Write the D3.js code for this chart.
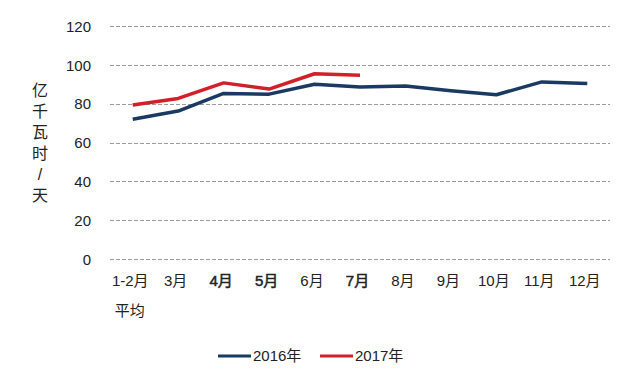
<!DOCTYPE html>
<html>
<head>
<meta charset="utf-8">
<script src="https://cdn.jsdelivr.net/npm/d3@7"></script>
<style>
  body { margin: 0; background: #fff; }
  text { font-family: "Liberation Sans", "Noto Sans CJK SC", sans-serif; fill: #222; }
</style>
</head>
<body>
<div id="chart"></div>
<script>
const months = ["1-2月", "3月", "4月", "5月", "6月", "7月", "8月", "9月", "10月", "11月", "12月"];
const values2016 = [72, 76.2, 85.3, 84.9, 90, 88.6, 89.1, 86.6, 84.6, 91.2, 90.4];
const values2017 = [79.3, 82.7, 90.7, 87.5, 95.4, 94.6];
const yTicks = [0, 20, 40, 60, 80, 100, 120];
const seriesNames = ["2016年", "2017年"];
const yTitle = ["亿", "千", "瓦", "时", "/", "天"];

const width = 642, height = 370;
const plot = { left: 110, right: 610, top: 26, bottom: 259 };
const colors = ["#1b3a63", "#d2202b"];
const boldTicks = ["4月", "5月", "7月"];

const svg = d3.select("#chart").append("svg")
    .attr("width", width)
    .attr("height", height);

const x = d3.scalePoint()
    .domain(months)
    .range([plot.left, plot.right])
    .padding(0.5);

const y = d3.scaleLinear()
    .domain([0, 120])
    .range([plot.bottom, plot.top]);

// dashed gridlines
svg.append("g")
   .selectAll("line")
   .data(yTicks)
   .enter()
   .append("line")
   .attr("x1", plot.left)
   .attr("x2", plot.right)
   .attr("y1", d => Math.round(y(d)) + 0.5)
   .attr("y2", d => Math.round(y(d)) + 0.5)
   .attr("stroke", "#9a9a9a")
   .attr("stroke-width", 1)
   .attr("stroke-dasharray", "4,2");

// y axis labels
const yAxis = svg.append("g")
   .attr("transform", `translate(${plot.left - 19},0)`)
   .call(d3.axisLeft(y).tickValues(yTicks).tickSize(0).tickPadding(0));
yAxis.select(".domain").remove();
yAxis.selectAll("text")
   .style("font-size", "15px")
   .attr("dy", "0.35em");

// x axis labels (a few look slightly heavier in the original)
const xAxis = svg.append("g")
   .attr("transform", `translate(-3,${plot.bottom + 15})`)
   .call(d3.axisBottom(x).tickSize(0).tickPadding(0));
xAxis.select(".domain").remove();
xAxis.selectAll("text")
   .style("font-size", "15px")
   .attr("stroke", d => boldTicks.includes(d) ? "#222" : "none")
   .attr("stroke-width", 0.5)
   .attr("dy", "0.8em");

svg.append("text")
   .attr("x", x(months[0]) - 3)
   .attr("y", 316)
   .attr("text-anchor", "middle")
   .style("font-size", "15px")
   .text("平均");

// vertical y title
svg.append("g")
   .selectAll("text")
   .data(yTitle)
   .enter()
   .append("text")
   .attr("x", 40)
   .attr("y", (d, i) => 96 + i * 21)
   .attr("text-anchor", "middle")
   .style("font-size", "16px")
   .text(d => d);

// lines
const line = d3.line()
    .x((d, i) => x(months[i]))
    .y(d => y(d));

[values2016, values2017].forEach((vals, k) => {
    svg.append("path")
       .datum(vals)
       .attr("fill", "none")
       .attr("stroke", colors[k])
       .attr("stroke-width", 3.5)
       .attr("stroke-linejoin", "round")
       .attr("d", line);
});

// legend
const legend = svg.append("g").attr("transform", "translate(218,356)");
const legendX = [0, 102];
seriesNames.forEach((name, i) => {
    legend.append("line")
          .attr("x1", legendX[i])
          .attr("x2", legendX[i] + 33)
          .attr("y1", 0)
          .attr("y2", 0)
          .attr("stroke", colors[i])
          .attr("stroke-width", 3);
    legend.append("text")
          .attr("x", legendX[i] + 35)
          .attr("y", 0)
          .attr("dy", "0.35em")
          .style("font-size", "15px")
          .text(name);
});
</script>
</body>
</html>
